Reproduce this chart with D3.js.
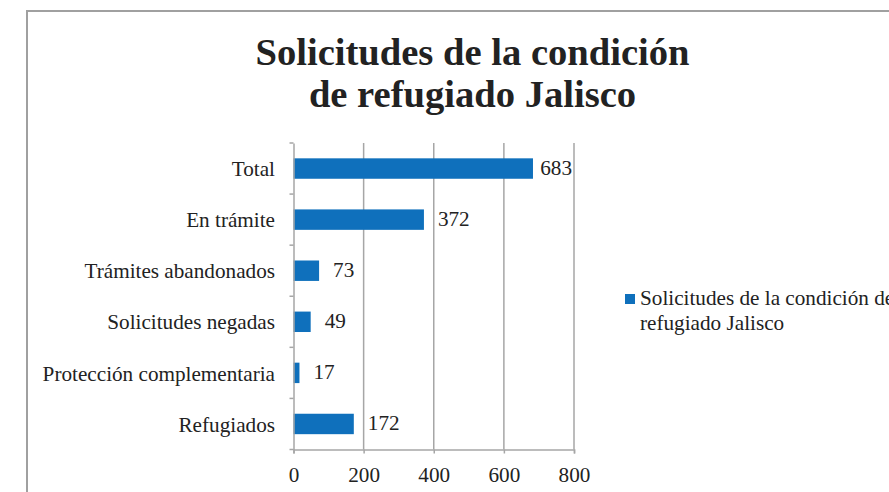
<!DOCTYPE html>
<html><head><meta charset="utf-8">
<script src="https://cdn.jsdelivr.net/npm/d3@7"></script>
<style>body{margin:0;background:#fff}svg{display:block}text{font-family:"Liberation Serif","Times New Roman",serif;fill:#222}</style>
</head><body><svg id="c" width="889" height="492"></svg>
<script>
const categories = ["Total","En trámite","Trámites abandonados","Solicitudes negadas","Protección complementaria","Refugiados"];
const values = [683,372,73,49,17,172];
const xTicks = [0,200,400,600,800];
const titleLines = ["Solicitudes de la condición","de refugiado Jalisco"];
const seriesName = ["Solicitudes de la condición de","refugiado Jalisco"];

const svg = d3.select("#c");
const color = "#0f70bc", grid = "#a6a6a6";
const fs = 21.2;
svg.append("rect").attr("x",27).attr("y",11).attr("width",900).attr("height",520)
  .attr("fill","none").attr("stroke","#a0a0a0").attr("stroke-width",2);

const x = d3.scaleLinear().domain([0,800]).range([293.5,574]);
const y = d3.scaleBand().domain(categories).range([143,449.5]).paddingInner(0.6).paddingOuter(0.3);
const yb = d3.scaleBand().domain(categories).range([143,449.5]);

const title = svg.append("text").attr("text-anchor","middle").attr("font-weight","bold").attr("font-size",38.6);
titleLines.forEach((t,i)=>title.append("tspan").attr("x",472.5).attr("y",65+i*42).text(t));

// gridlines
svg.append("g").selectAll("line").data(xTicks.slice(1)).join("line")
  .attr("x1",d=>x(d)).attr("x2",d=>x(d)).attr("y1",143).attr("y2",449.5)
  .attr("stroke",grid).attr("stroke-width",1.5);

// bars
svg.append("g").selectAll("rect").data(values).join("rect")
  .attr("x",x(0)).attr("y",(d,i)=>y(categories[i])).attr("height",y.bandwidth())
  .attr("width",d=>x(d)-x(0)).attr("fill",color);

// value labels (kept inside plot area like Excel)
svg.append("g").selectAll("text").data(values).join("text")
  .attr("y",(d,i)=>y(categories[i])+y.bandwidth()/2+6.5)
  .attr("font-size",fs).text(d=>d)
  .attr("x",function(d){const w=this.getComputedTextLength();return Math.min(x(d)+14, x.range()[1]-2-w);});

// y axis
const ya = svg.append("g").attr("transform",`translate(${x(0)},0)`)
  .call(d3.axisLeft(yb).tickSize(0).tickPadding(18.5));
ya.select(".domain").attr("stroke",grid).attr("stroke-width",1.5);
ya.selectAll("text").attr("font-size",fs).attr("font-family","Liberation Serif").attr("fill","#222").attr("dy","0.36em");
svg.append("g").selectAll("line").data(d3.range(categories.length+1)).join("line")
  .attr("x1",x(0)-4).attr("x2",x(0)).attr("y1",i=>143+i*yb.step()).attr("y2",i=>143+i*yb.step())
  .attr("stroke",grid).attr("stroke-width",1.5);

// x axis
const xa = svg.append("g").attr("transform","translate(0,449.5)")
  .call(d3.axisBottom(x).tickValues(xTicks).tickSize(4).tickPadding(13.5));
xa.select(".domain").attr("stroke",grid).attr("stroke-width",1.5);
xa.selectAll("line").attr("stroke",grid).attr("stroke-width",1.5);
xa.selectAll("text").attr("font-size",fs).attr("font-family","Liberation Serif").attr("fill","#222");

// legend
const lg = svg.append("g");
lg.append("rect").attr("x",625).attr("y",294).attr("width",10).attr("height",10).attr("fill",color);
seriesName.forEach((t,i)=>lg.append("text").attr("x",640).attr("y",305+i*24.5).attr("font-size",fs).text(t));
</script></body></html>
